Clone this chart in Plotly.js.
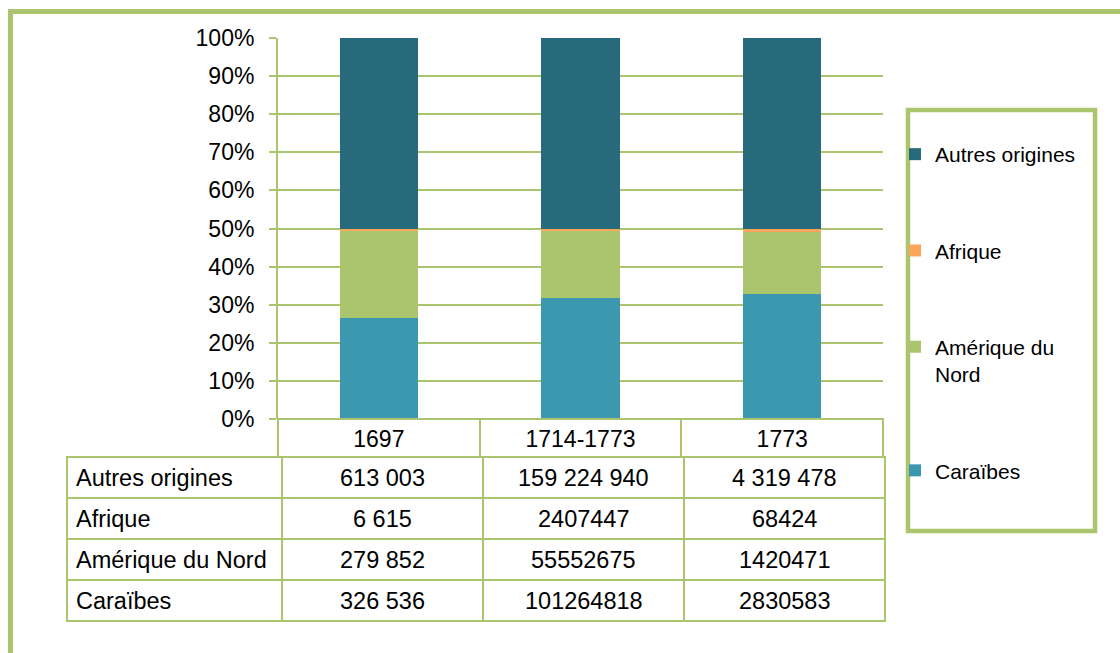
<!DOCTYPE html>
<html>
<head>
<meta charset="utf-8">
<script src="https://cdn.plot.ly/plotly-3.0.1.min.js"></script>
<style>
html,body{margin:0;padding:0;background:#fff;}
#chart{width:1120px;height:653px;}
</style>
</head>
<body>
<div id="chart"></div>
<script>
// ---- Data ----
const categories = ["1697", "1714-1773", "1773"];
const seriesNames = ["Autres origines", "Afrique", "Amérique du Nord", "Caraïbes"];
const autresText   = ["613 003", "159 224 940", "4 319 478"];
const afriqueText  = ["6 615", "2407447", "68424"];
const ameriqueText = ["279 852", "55552675", "1420471"];
const caraibesText = ["326 536", "101264818", "2830583"];
const yTickVals   = [0, 10, 20, 30, 40, 50, 60, 70, 80, 90, 100];
const yTickLabels = ["0%", "10%", "20%", "30%", "40%", "50%", "60%", "70%", "80%", "90%", "100%"];

// ---- Styles ----
const colors = {
  "Autres origines": "#276A7B",
  "Afrique": "#F9A55A",
  "Amérique du Nord": "#ABC56F",
  "Caraïbes": "#3B98AF"
};
const GREEN = "#ABC56F";
const FONT = "Liberation Sans, Arial, sans-serif";

const toNum = s => Number(String(s).replace(/\s/g, ""));
const tableTexts = {
  "Autres origines": autresText,
  "Afrique": afriqueText,
  "Amérique du Nord": ameriqueText,
  "Caraïbes": caraibesText
};

// plot area in pixels
const W = 1120, H = 653;
const L = 278, R = 883, T = 38, B = 419;
const px = p => (p - L) / (R - L);
const py = p => (B - p) / (B - T);

// stacking order: bottom first
const stackOrder = ["Caraïbes", "Amérique du Nord", "Afrique", "Autres origines"];
const traces = stackOrder.map(name => ({
  type: "bar",
  name: name.replace(" du Nord", " du<br>Nord"),
  legendgroup: name,
  legendrank: seriesNames.indexOf(name) + 1,
  x: categories,
  y: tableTexts[name].map(toNum),
  marker: { color: colors[name], line: { width: 0 } },
  hoverinfo: "x+y+name"
}));

// ---- Shapes ----
const shapes = [];
const lineShape = (x0, y0, x1, y1, w) => ({
  type: "line", xref: "paper", yref: "paper",
  x0: px(x0), y0: py(y0), x1: px(x1), y1: py(y1),
  line: { color: GREEN, width: w || 2 }
});
const rectShape = (x0, y0, x1, y1, w) => ({
  type: "rect", xref: "paper", yref: "paper",
  x0: px(x0), y0: py(y0), x1: px(x1), y1: py(y1),
  line: { color: GREEN, width: w || 2 }, fillcolor: "rgba(0,0,0,0)"
});
// outer frame
shapes.push(rectShape(10.5, 11.5, 1140, 680, 5));
// category row
shapes.push(rectShape(278, 419, 883, 457, 2));
shapes.push(lineShape(480, 419, 480, 457, 2));
shapes.push(lineShape(681, 419, 681, 457, 2));
// data table
const tabL = 67, tabR = 885, tabT = 457, rowH = 41;
const colX = [67, 282, 483, 684, 885];
const tabB = tabT + rowH * seriesNames.length;
shapes.push(rectShape(tabL, tabT, tabR, tabB, 2));
for (let i = 1; i < seriesNames.length; i++) shapes.push(lineShape(tabL, tabT + rowH * i, tabR, tabT + rowH * i, 2));
for (let j = 1; j < colX.length - 1; j++) shapes.push(lineShape(colX[j], tabT, colX[j], tabB, 2));
// legend box
shapes.push(rectShape(908, 110, 1095, 531, 4.5));

// ---- Table annotations ----
const annotations = [];
seriesNames.forEach((name, i) => {
  const yc = tabT + rowH * i + rowH / 2;
  annotations.push({
    xref: "paper", yref: "paper", x: px(74), y: py(yc),
    xanchor: "left", yanchor: "middle", showarrow: false,
    text: name, font: { family: FONT, size: 23.5, color: "#000" }
  });
  tableTexts[name].forEach((t, j) => {
    annotations.push({
      xref: "paper", yref: "paper", x: px((colX[j + 1] + colX[j + 2]) / 2), y: py(yc),
      xanchor: "center", yanchor: "middle", showarrow: false,
      text: t, font: { family: FONT, size: 23.5, color: "#000" }
    });
  });
});

const layout = {
  width: W, height: H,
  margin: { l: L, r: W - R, t: T, b: H - B, pad: 0 },
  paper_bgcolor: "#fff", plot_bgcolor: "#fff",
  barmode: "stack", barnorm: "percent", bargap: 0.613,
  font: { family: FONT, size: 23, color: "#000" },
  xaxis: {
    type: "category", showgrid: false, zeroline: false, showline: false,
    ticks: "", tickfont: { family: FONT, size: 23, color: "#000" },
    ticklabelstandoff: 4, fixedrange: true
  },
  yaxis: {
    range: [0, 100], tickmode: "array", tickvals: yTickVals, ticktext: yTickLabels,
    showgrid: true, gridcolor: GREEN, gridwidth: 2,
    zeroline: false, showline: true, linecolor: GREEN, linewidth: 2,
    ticks: "outside", ticklen: 7, tickwidth: 2, tickcolor: GREEN,
    tickfont: { family: FONT, size: 23, color: "#000" },
    ticklabelstandoff: 10, fixedrange: true
  },
  showlegend: true,
  legend: {
    xref: "container", yref: "container",
    x: 895 / W, y: 1 - 134 / H, xanchor: "left", yanchor: "top",
    traceorder: "grouped", tracegroupgap: 66, valign: "top",
    maxheight: 600,
    font: { family: FONT, size: 21, color: "#000" },
    bgcolor: "rgba(0,0,0,0)", borderwidth: 0
  },
  shapes: shapes,
  annotations: annotations
};

Plotly.newPlot("chart", traces, layout, { displayModeBar: false, staticPlot: true });
</script>
</body>
</html>
